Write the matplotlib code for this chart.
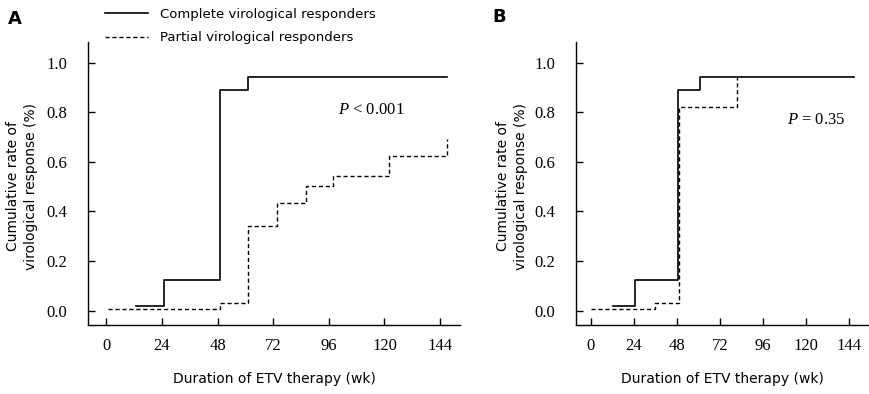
import matplotlib
matplotlib.use("Agg")
import matplotlib.pyplot as plt

# Panel A: Kaplan-Meier style step data (weeks, cumulative rate)
a_complete_wk = [12.8, 25.0, 49.2, 61.3, 147.0]
a_complete_rate = [0.02, 0.125, 0.89, 0.94, 0.94]
a_partial_wk = [0.9, 49.2, 61.3, 73.5, 86.0, 98.0, 122.1, 147.0]
a_partial_rate = [0.005, 0.03, 0.34, 0.433, 0.504, 0.543, 0.624, 0.691]

# Panel B
b_complete_wk = [12.4, 24.5, 48.7, 61.0, 146.6]
b_complete_rate = [0.02, 0.125, 0.89, 0.94, 0.94]
b_partial_wk = [0.0, 35.9, 48.9, 81.5]
b_partial_rate = [0.005, 0.03, 0.82, 0.94]

xticks = [0, 24, 48, 72, 96, 120, 144]
yticks = [0.0, 0.2, 0.4, 0.6, 0.8, 1.0]
p_texts = ["< 0.001", "= 0.35"]

serif = "Liberation Serif"
sans = "DejaVu Sans"
plt.rcParams["mathtext.fontset"] = "custom"
plt.rcParams["mathtext.it"] = "Liberation Serif:italic"
plt.rcParams["mathtext.rm"] = "Liberation Serif"

fig = plt.figure(figsize=(8.69, 3.94), dpi=100)
W, H = 869, 394


def make_axes(left, right):
    return fig.add_axes([left / W, 1 - 325 / H, (right - left) / W, (325 - 42) / H])


axA = make_axes(88, 460)
axB = make_axes(575.7, 869)

dash = (0, (3, 2))
panels = [
    (axA, a_complete_wk, a_complete_rate, a_partial_wk, a_partial_rate, (-7.9, 152.6)),
    (axB, b_complete_wk, b_complete_rate, b_partial_wk, b_partial_rate, (-8.5, 154.9)),
]

for ax, cw, cr, pw, pr, xl in panels:
    ax.step(pw, pr, where="post", color="black", lw=1.0, linestyle=dash,
            label="Partial virological responders")
    ax.step(cw, cr, where="post", color="black", lw=1.2,
            label="Complete virological responders")
    ax.set_xlim(*xl)
    ax.set_ylim(-0.058, 1.083)
    ax.set_xticks(xticks)
    ax.set_yticks(yticks)
    ax.set_yticklabels([f"{v:.1f}" for v in yticks])
    for s in ["top", "right"]:
        ax.spines[s].set_visible(False)
    for s in ["left", "bottom"]:
        ax.spines[s].set_linewidth(1.0)
    ax.tick_params(direction="in", length=5, width=1.0, labelsize=12)
    ax.tick_params(axis="x", pad=9)
    ax.tick_params(axis="y", pad=15)
    for lab in ax.get_xticklabels() + ax.get_yticklabels():
        lab.set_fontfamily(serif)
    ax.set_xlabel("Duration of ETV therapy (wk)", fontsize=10, family=sans)
    ax.xaxis.set_label_coords(0.5, -0.165)
    ax.set_ylabel("Cumulative rate of\nvirological response (%)", fontsize=10,
                  family=sans, linespacing=1.4)

axA.yaxis.set_label_coords((38 - 88) / (460 - 88), 0.49)
axB.yaxis.set_label_coords((528 - 575.7) / (869 - 575.7), 0.49)

axA.text(0.761, 0.76, "$P$ " + p_texts[0], transform=axA.transAxes,
         fontsize=12, family=serif, ha="center", va="center")
axB.text(0.819, 0.724, "$P$ " + p_texts[1], transform=axB.transAxes,
         fontsize=12, family=serif, ha="center", va="center")

fig.text(15 / W, 1 - 19 / H, "A", fontsize=13, fontweight="bold", family=sans,
         ha="center", va="center")
fig.text(499 / W, 1 - 17 / H, "B", fontsize=13, fontweight="bold", family=sans,
         ha="center", va="center")

handles, labels = axA.get_legend_handles_labels()
fig.legend(handles[::-1], labels[::-1], loc="upper left",
           bbox_to_anchor=(93 / W, 1 + 4 / H), frameon=False,
           handlelength=3.3, handletextpad=0.85, labelspacing=0.8,
           prop={"family": sans, "size": 9.5})

fig.savefig("out.png", dpi=100)
